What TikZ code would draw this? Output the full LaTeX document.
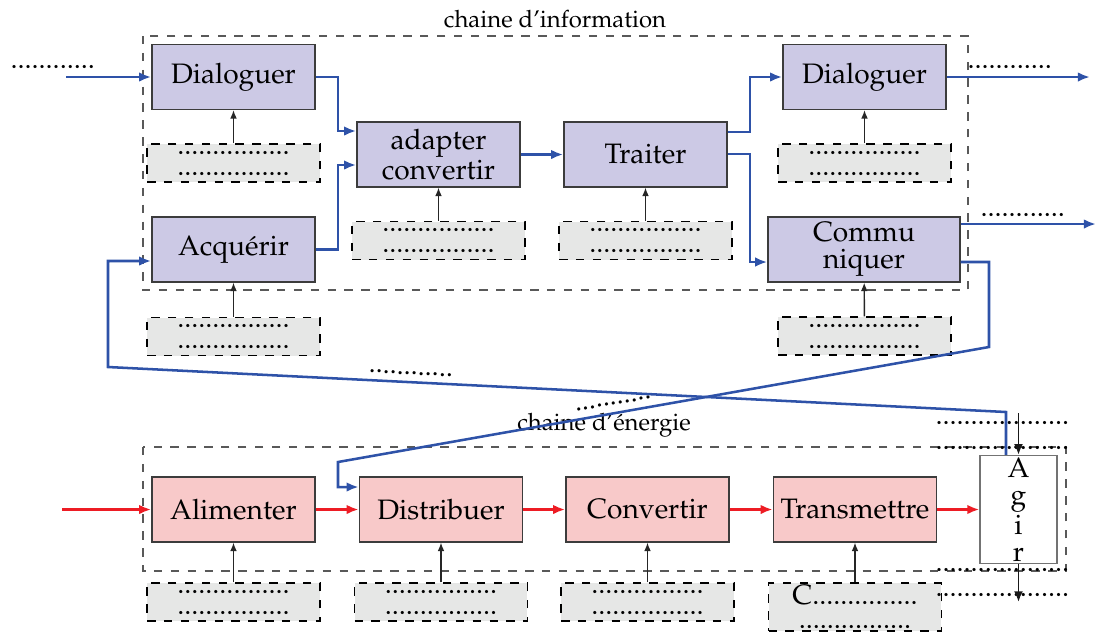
\documentclass[tikz,border=0pt]{standalone}
\usepackage[T1]{fontenc}
\usepackage{mathpazo}
\usetikzlibrary{arrows.meta,calc}

\definecolor{lavande}{RGB}{204,201,229}
\definecolor{rose}{RGB}{248,201,201}
\definecolor{grisclair}{RGB}{230,231,230}
\definecolor{bleuflux}{RGB}{46,82,168}
\definecolor{rougeflux}{RGB}{237,28,36}
\definecolor{bord}{RGB}{60,60,60}

% ligne de pointilles a completer
\newcommand{\points}[1]{\foreach \k in {1,...,#1}{.}}

\begin{document}
\begin{tikzpicture}[x=1.25mm,y=-1.25mm,
  fonction/.style={draw=bord,line width=0.5pt,inner sep=0pt,align=center,
    minimum width=20.4mm,minimum height=8.1mm,font=\fontsize{10}{9.5}\selectfont},
  info/.style={fonction,fill=lavande},
  energie/.style={fonction,fill=rose},
  donnee/.style={draw=black,dashed,fill=grisclair,line width=0.5pt,inner sep=0pt,align=center,
    minimum width=21.6mm,minimum height=4.75mm,font=\fontsize{10}{7.5}\selectfont},
  cadre/.style={draw=black!65,dashed,line width=0.45pt},
  titre/.style={anchor=base,font=\fontsize{8.5}{10}\selectfont},
  pointilles/.style={inner sep=0pt,anchor=base west,font=\fontsize{10}{12}\selectfont},
  flux/.style={draw=bleuflux,line width=0.9pt,-{Latex[length=4.3pt,width=3.4pt]}},
  puiss/.style={draw=rougeflux,line width=0.85pt,-{Latex[length=4.3pt,width=3.4pt]}},
  cmd/.style={draw=black!85,line width=0.5pt,-{Latex[length=3pt,width=2.4pt]}},
  cmdagir/.style={draw=black!90,line width=0.7pt,-{Latex[length=3.8pt,width=3.2pt]}}
]
\useasboundingbox (0,0) rectangle (109.7,63.2);

% cadres des deux chaines
\draw[cadre] (14.3,3.6) rectangle (96.8,29.0);
\draw[cadre] (14.3,44.7) rectangle (106.6,57.1);
\node[titre] (titreInfo) at (55.5,2.7) {chaine d'information};
\node[titre] (titreEnergie) at (60.4,43.0) {chaine d'\'energie};

% chaine d'information
\node[info] (dialE) at (23.35,7.7) {Dialoguer};
\node[info] (acq) at (23.35,24.95) {Acqu\'erir};
\node[info] (adapt) at (43.85,15.45) {adapter\\convertir};
\node[info] (trait) at (64.55,15.45) {Traiter};
\node[info] (dialS) at (86.45,7.7) {Dialoguer};
\node[info,minimum width=24mm] (comm) at (86.4,24.95) {Commu\\niquer};

\node[donnee] (dDialE) at (23.35,16.3) {\points{16}\\\points{16}};
\node[donnee] (dAcq) at (23.35,33.65) {\points{16}\\\points{16}};
\node[donnee] (dAdapt) at (43.85,24.05) {\points{16}\\\points{16}};
\node[donnee] (dTrait) at (64.55,24.05) {\points{16}\\\points{16}};
\node[donnee] (dDialS) at (86.45,16.3) {\points{16}\\\points{16}};
\node[donnee] (dComm) at (86.45,33.6) {\points{16}\\\points{16}};

% chaine d'energie
\node[energie] (alim) at (23.35,50.95) {Alimenter};
\node[energie] (distr) at (44.1,50.95) {Distribuer};
\node[energie] (conv) at (64.75,50.95) {Convertir};
\node[energie] (trans) at (85.5,50.95) {Transmettre};
\node[fonction,fill=white,draw=black!55,minimum width=9.6mm,minimum height=13.5mm] (agir) at (101.85,50.95) {A\\g\\i\\r};

\node[donnee] (dAlim) at (23.35,60.2) {\points{16}\\\points{16}};
\node[donnee] (dDistr) at (44.1,60.2) {\points{16}\\\points{16}};
\node[donnee] (dConv) at (64.75,60.2) {\points{16}\\\points{16}};
\node[donnee,minimum height=6mm,font=\fontsize{10}{8.5}\selectfont] (dTrans) at (85.5,60.7) {C\points{15}\\\points{16}};

% pointilles libres
\node[pointilles] (pDialE) at (1.0,6.85) {\points{12}};
\node[pointilles] (pDialS) at (96.7,6.85) {\points{12}};
\node[pointilles] (pComm) at (98.0,21.65) {\points{12}};
\node[pointilles,rotate=-3] (pRetour) at (36.8,37.25) {\points{12}};
\node[pointilles,rotate=9.5] (pOrdre) at (57.5,41.15) {\points{11}};
\node[pointilles] (pAgir1) at (93.5,42.45) {\points{19}};
\node[pointilles] (pAgir2) at (93.5,44.95) {\points{19}};
\node[pointilles] (pAgir3) at (93.5,57.15) {\points{19}};
\node[pointilles] (pAgir4) at (93.5,59.65) {\points{19}};

% extremites libres
\coordinate (entreeInfo) at (6.6,7.7);
\coordinate (sortieDial) at (109.0,7.7);
\coordinate (sortieComm) at (109.6,22.4);
\coordinate (entreeEnergie) at (6.2,50.95);
\coordinate (entreeAgir) at (agir.north |- 0,41.3);
\coordinate (sortieAgir) at (agir.south |- 0,60.2);

% flux d'information
\draw[flux] (entreeInfo) -- (dialE.west);
\draw[flux] (dialE.east) -| (33.8,13.1) -- (adapt.west |- 0,13.1);
\draw[flux] (acq.east) -| (33.8,16.5) -- (adapt.west |- 0,16.5);
\draw[flux] (adapt) -- (trait);
\draw[flux] (trait.east |- 0,13.2) -| (75.0,7.7) -- (dialS.west);
\draw[flux] (trait.east |- 0,15.4) -| (75.0,26.2) -- (comm.west |- 0,26.2);
\draw[flux] (dialS.east) -- (sortieDial);
\draw[flux] (comm.east |- 0,22.4) -- (sortieComm);
% ordres vers le pre-actionneur
\draw[flux] (comm.east |- 0,26.2) -| (98.9,34.7) -- (33.8,46.2) |- (distr.west |- 0,48.7);
% retour d'information
\draw[flux] (agir.north -| 100.6,0) -- (100.6,41.2) -- (10.8,36.7) |- (acq.west |- 0,26.1);

% flux d'energie
\draw[puiss] (entreeEnergie) -- (alim);
\foreach \a/\b in {alim/distr,distr/conv,conv/trans,trans/agir}
  \draw[puiss] (\a) -- (\b);

% donnees de configuration
\foreach \a/\b in {dDialE/dialE,dAcq/acq,dAdapt/adapt,dTrait/trait,dDialS/dialS,dComm/comm,
  dAlim/alim,dDistr/distr,dConv/conv,dTrans/trans}
  \draw[cmd] (\a) -- (\b);

% matiere d'oeuvre
\draw[cmdagir] (entreeAgir) -- (agir);
\draw[cmdagir] (agir) -- (sortieAgir);
\end{tikzpicture}
\end{document}
